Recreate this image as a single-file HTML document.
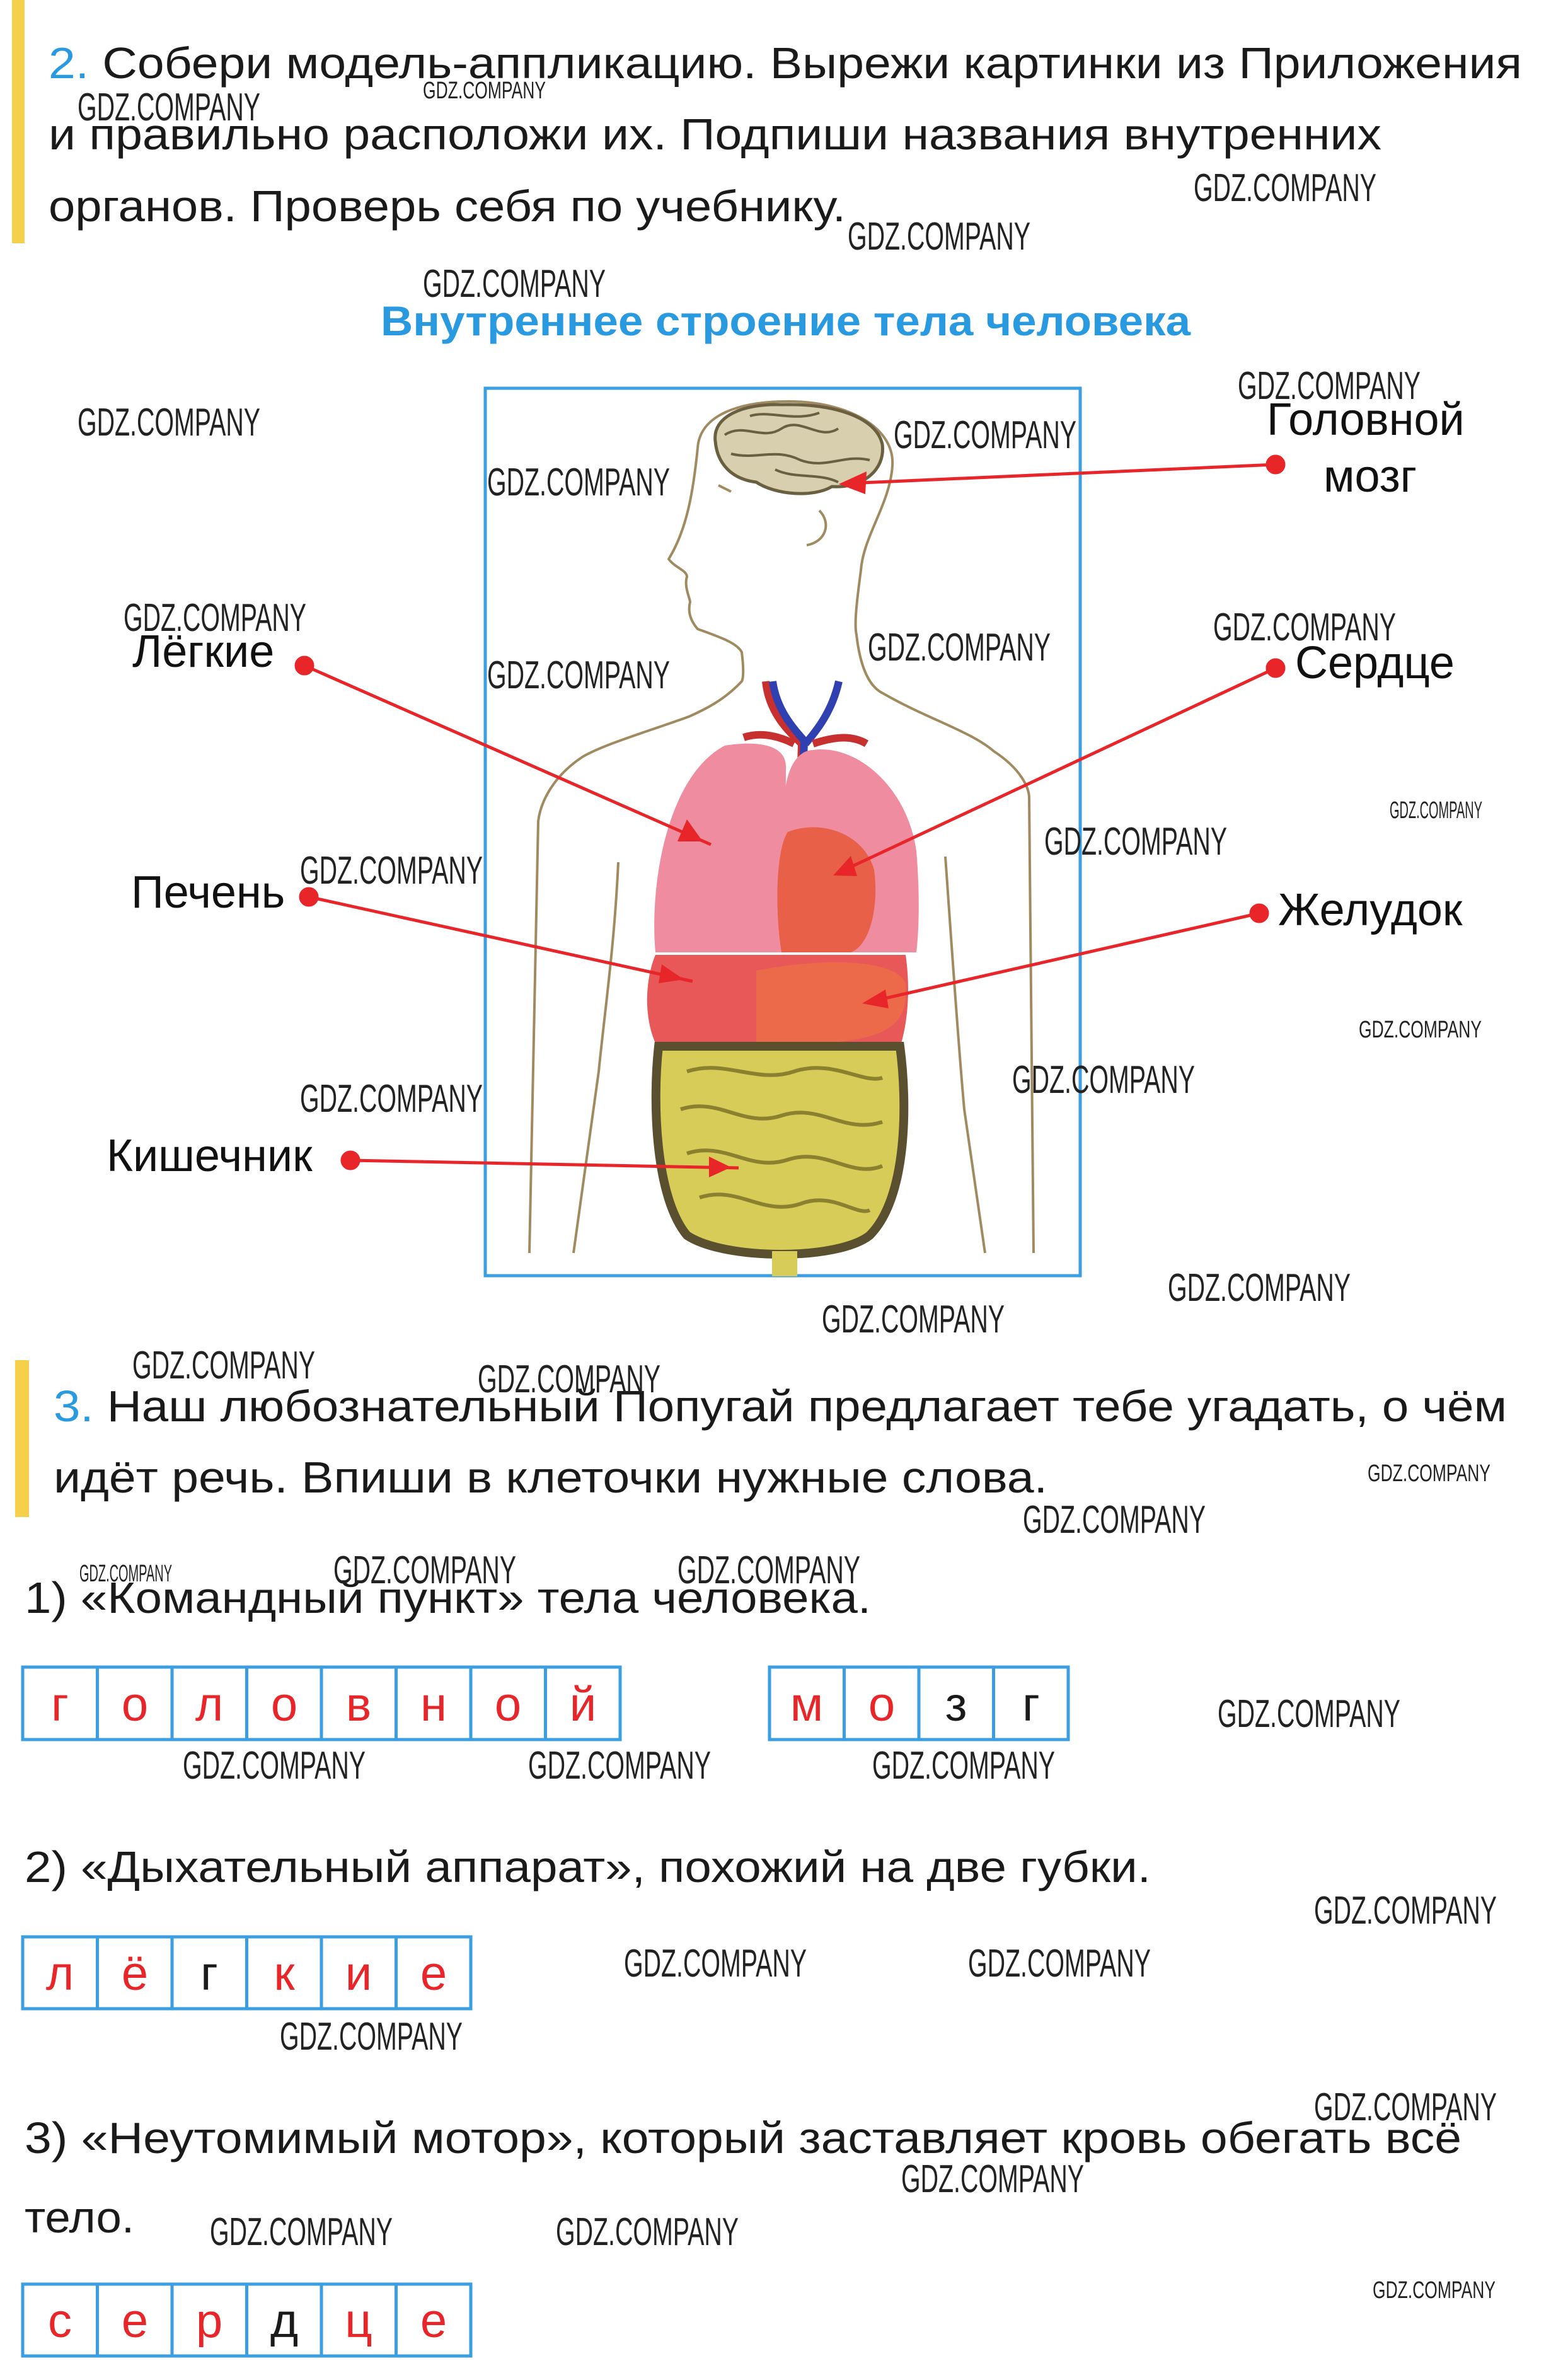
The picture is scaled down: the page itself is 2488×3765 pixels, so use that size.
<!DOCTYPE html>
<html><head><meta charset="utf-8"><style>
html,body{margin:0;padding:0;background:#fff;}
svg{display:block;}
text{font-family:"Liberation Sans","DejaVu Sans",sans-serif;}
.t{font-size:70px;fill:#1a1a1a;}
.lab{font-size:72px;fill:#111;}
.wm{font-size:62px;fill:#222;font-family:"Liberation Sans Narrow","Liberation Sans",sans-serif;}
.c{font-size:76px;text-anchor:middle;fill:#e8262a;}
.k{fill:#1a1a1a;}
</style></head><body>
<svg width="2488" height="3765" viewBox="0 0 2488 3765" xmlns="http://www.w3.org/2000/svg">
<rect width="2488" height="3765" fill="#fff"/>
<rect x="19" y="0" width="20" height="386" fill="#f5d04a"/>

<text class="t" x="77" y="124" textLength="2338" lengthAdjust="spacingAndGlyphs"><tspan fill="#2a9ae0">2.</tspan> Собери модель-аппликацию. Вырежи картинки из Приложения</text>
<text class="t" x="77" y="237" textLength="2115" lengthAdjust="spacingAndGlyphs">и правильно расположи их. Подпиши названия внутренних</text>
<text class="t" x="77" y="351" textLength="1265" lengthAdjust="spacingAndGlyphs">органов. Проверь себя по учебнику.</text>

<text x="604" y="532" font-size="66" font-weight="bold" fill="#2a9ae0" textLength="1285" lengthAdjust="spacingAndGlyphs">Внутреннее строение тела человека</text>

<rect x="770" y="616" width="944" height="1408" fill="none" stroke="#3a9ee0" stroke-width="5"/>

<g fill="none" stroke="#a08a60" stroke-width="4">
<path d="M1107,711 C1110,660 1170,635 1261,637 C1350,640 1420,680 1416,739 C1412,800 1370,850 1366,905 C1360,950 1355,990 1359,1007 C1365,1060 1380,1090 1401,1100 C1470,1140 1540,1160 1577,1192 C1620,1220 1633,1250 1633,1266 L1640,1988"/>
<path d="M1107,711 C1100,780 1090,840 1061,887 C1070,900 1090,905 1090,915 C1085,930 1095,950 1095,955 C1090,975 1100,990 1107,998 C1140,1010 1170,1020 1177,1035 C1180,1060 1180,1075 1177,1081 C1150,1110 1120,1125 1093,1137 C1030,1160 960,1180 924,1201 C880,1230 858,1270 854,1303 L840,1988"/>
<path d="M981,1368 C975,1500 960,1600 950,1700 L910,1988"/>
<path d="M1500,1359 C1510,1500 1520,1650 1530,1760 L1563,1988"/>
<path d="M1300,810 C1320,830 1310,860 1280,865"/>
<path d="M1140,770 L1160,780"/>
</g>
<path d="M1135,700 C1130,660 1180,640 1240,642 C1320,640 1390,660 1400,705 C1405,745 1370,775 1320,772 C1290,790 1230,785 1200,765 C1160,760 1138,735 1135,700 Z" fill="#d8cfae" stroke="#6a5f40" stroke-width="5"/>
<g fill="none" stroke="#6a5f40" stroke-width="4">
<path d="M1150,690 C1180,670 1210,700 1240,680 C1270,660 1300,700 1330,680"/>
<path d="M1160,720 C1200,730 1230,710 1270,730 C1310,745 1340,720 1380,730"/>
<path d="M1190,660 C1220,650 1260,670 1300,655"/>
<path d="M1230,745 C1260,760 1300,750 1330,765"/>
</g>
<g fill="none" stroke-width="12">
<path d="M1215,1081 C1220,1130 1250,1160 1272,1180 L1268,1322" stroke="#c83030"/>
<path d="M1226,1081 C1232,1125 1258,1155 1276,1175 L1272,1300" stroke="#3040b0"/>
<path d="M1331,1081 C1320,1130 1295,1160 1278,1180" stroke="#3040b0"/>
<path d="M1180,1170 C1210,1160 1240,1170 1260,1180" stroke="#c83030"/>
<path d="M1290,1180 C1320,1170 1350,1165 1375,1180" stroke="#c83030"/>
</g>
<path d="M1150,1183 C1200,1175 1250,1180 1247,1220 L1245,1511 L1040,1511 C1030,1400 1060,1230 1150,1183 Z" fill="#f08ca0"/>
<path d="M1290,1190 C1360,1180 1440,1250 1454,1350 C1460,1420 1458,1480 1454,1511 L1240,1511 L1245,1260 C1250,1210 1270,1190 1290,1190 Z" fill="#f08ca0"/>
<path d="M1250,1320 C1300,1300 1370,1320 1387,1380 C1395,1440 1380,1500 1350,1511 L1240,1511 C1230,1450 1230,1350 1250,1320 Z" fill="#e86048"/>
<path d="M1040,1515 L1437,1515 C1445,1570 1440,1620 1430,1655 L1040,1655 C1020,1610 1025,1550 1040,1515 Z" fill="#e85858"/>
<path d="M1200,1540 C1300,1520 1420,1520 1437,1560 C1440,1610 1430,1650 1300,1655 L1200,1655 Z" fill="#ec6a4a"/>
<path d="M1045,1660 L1428,1660 C1440,1750 1440,1900 1380,1960 C1330,2000 1150,2000 1090,1960 C1040,1900 1035,1750 1045,1660 Z" fill="#d8cc58" stroke="#5a5030" stroke-width="14"/>
<g fill="none" stroke="#8a8030" stroke-width="6">
<path d="M1090,1700 C1150,1680 1200,1720 1260,1700 C1320,1680 1370,1720 1400,1710"/>
<path d="M1080,1760 C1140,1740 1180,1790 1240,1770 C1300,1750 1340,1800 1400,1780"/>
<path d="M1090,1830 C1150,1810 1190,1860 1250,1840 C1310,1820 1350,1870 1400,1850"/>
<path d="M1110,1900 C1170,1880 1210,1930 1270,1910 C1320,1890 1360,1930 1380,1920"/>
</g>
<rect x="1225" y="1985" width="40" height="40" fill="#d8cc58"/>

<g stroke="#e8262a" stroke-width="5" fill="#e8262a">
<line x1="2024" y1="737" x2="1345" y2="767"/>
<line x1="483" y1="1056" x2="1128" y2="1340"/>
<line x1="2024" y1="1060" x2="1336" y2="1382"/>
<line x1="490" y1="1423" x2="1099" y2="1557"/>
<line x1="1998" y1="1449" x2="1382" y2="1589"/>
<line x1="556" y1="1841" x2="1172" y2="1853"/>
<circle cx="2024" cy="737" r="13"/><circle cx="483" cy="1056" r="13"/><circle cx="2024" cy="1060" r="13"/>
<circle cx="490" cy="1423" r="13"/><circle cx="1998" cy="1449" r="13"/><circle cx="556" cy="1841" r="13"/>
</g>
<g fill="#e8262a">
<polygon points="1331,768 1375,748 1373,784"/>
<polygon points="1115,1335 1090,1300 1075,1335"/>
<polygon points="1322,1389 1350,1358 1360,1390"/>
<polygon points="1085,1554 1050,1530 1045,1560"/>
<polygon points="1368,1592 1405,1570 1410,1600"/>
<polygon points="1160,1852 1125,1835 1125,1868"/>
</g>

<text class="lab" x="2010" y="690">Головной</text>
<text class="lab" x="2100" y="780">мозг</text>
<text class="lab" x="210" y="1058">Лёгкие</text>
<text class="lab" x="2055" y="1076">Сердце</text>
<text class="lab" x="208" y="1440">Печень</text>
<text class="lab" x="2028" y="1468">Желудок</text>
<text class="lab" x="169" y="1858">Кишечник</text>

<g transform="translate(0,-16)">
<rect x="24" y="2174" width="22" height="249" fill="#f5d04a"/>
<text class="t" x="85" y="2271" textLength="2306" lengthAdjust="spacingAndGlyphs"><tspan fill="#2a9ae0">3.</tspan> Наш любознательный Попугай предлагает тебе угадать, о чём</text>
<text class="t" x="85" y="2384" textLength="1577" lengthAdjust="spacingAndGlyphs">идёт речь. Впиши в клеточки нужные слова.</text>
<text class="t" x="39" y="2575" textLength="1343" lengthAdjust="spacingAndGlyphs">1) «Командный пункт» тела человека.</text>
<text class="t" x="39" y="3002" textLength="1787" lengthAdjust="spacingAndGlyphs">2) «Дыхательный аппарат», похожий на две губки.</text>
<text class="t" x="39" y="3432" textLength="2280" lengthAdjust="spacingAndGlyphs">3) «Неутомимый мотор», который заставляет кровь обегать всё</text>
<text class="t" x="39" y="3558" textLength="174" lengthAdjust="spacingAndGlyphs">тело.</text>

<g fill="none" stroke="#3a9ee0" stroke-width="5">
<rect x="36" y="2661" width="948" height="115"/>
<path d="M154.5,2661V2776M273,2661V2776M391.5,2661V2776M510,2661V2776M628.5,2661V2776M747,2661V2776M865.5,2661V2776"/>
<rect x="1221" y="2661" width="474" height="115"/>
<path d="M1339.5,2661V2776M1458,2661V2776M1576.5,2661V2776"/>
<rect x="36" y="3089" width="711" height="114"/>
<path d="M154.5,3089V3203M273,3089V3203M391.5,3089V3203M510,3089V3203M628.5,3089V3203"/>
<rect x="36" y="3640" width="711" height="114"/>
<path d="M154.5,3640V3754M273,3640V3754M391.5,3640V3754M510,3640V3754M628.5,3640V3754"/>
</g>
<text class="c" x="95" y="2746">г</text><text class="c" x="214" y="2746">о</text><text class="c" x="332" y="2746">л</text><text class="c" x="451" y="2746">о</text>
<text class="c" x="569" y="2746">в</text><text class="c" x="688" y="2746">н</text><text class="c" x="806" y="2746">о</text><text class="c" x="925" y="2746">й</text>
<text class="c" x="1280" y="2746">м</text><text class="c" x="1399" y="2746">о</text><text class="c k" x="1517" y="2746">з</text><text class="c k" x="1636" y="2746">г</text>
<text class="c" x="95" y="3173">л</text><text class="c" x="214" y="3173">ё</text><text class="c k" x="332" y="3173">г</text><text class="c" x="451" y="3173">к</text><text class="c" x="569" y="3173">и</text><text class="c" x="688" y="3173">е</text>
<text class="c" x="95" y="3724">с</text><text class="c" x="214" y="3724">е</text><text class="c" x="332" y="3724">р</text><text class="c k" x="451" y="3724">д</text><text class="c" x="569" y="3724">ц</text><text class="c" x="688" y="3724">е</text>
</g>

<g class="wm">
<text x="123" y="191" textLength="290" lengthAdjust="spacingAndGlyphs">GDZ.COMPANY</text>
<text x="1894" y="319" textLength="290" lengthAdjust="spacingAndGlyphs">GDZ.COMPANY</text>
<text x="1345" y="396" textLength="290" lengthAdjust="spacingAndGlyphs">GDZ.COMPANY</text>
<text x="671" y="471" textLength="290" lengthAdjust="spacingAndGlyphs">GDZ.COMPANY</text>
<text x="1964" y="633" textLength="290" lengthAdjust="spacingAndGlyphs">GDZ.COMPANY</text>
<text x="123" y="691" textLength="290" lengthAdjust="spacingAndGlyphs">GDZ.COMPANY</text>
<text x="1418" y="711" textLength="290" lengthAdjust="spacingAndGlyphs">GDZ.COMPANY</text>
<text x="773" y="786" textLength="290" lengthAdjust="spacingAndGlyphs">GDZ.COMPANY</text>
<text x="196" y="1001" textLength="290" lengthAdjust="spacingAndGlyphs">GDZ.COMPANY</text>
<text x="1925" y="1016" textLength="290" lengthAdjust="spacingAndGlyphs">GDZ.COMPANY</text>
<text x="1377" y="1048" textLength="290" lengthAdjust="spacingAndGlyphs">GDZ.COMPANY</text>
<text x="773" y="1092" textLength="290" lengthAdjust="spacingAndGlyphs">GDZ.COMPANY</text>
<text x="476" y="1402" textLength="290" lengthAdjust="spacingAndGlyphs">GDZ.COMPANY</text>
<text x="1657" y="1356" textLength="290" lengthAdjust="spacingAndGlyphs">GDZ.COMPANY</text>
<text x="1606" y="1734" textLength="290" lengthAdjust="spacingAndGlyphs">GDZ.COMPANY</text>
<text x="476" y="1764" textLength="290" lengthAdjust="spacingAndGlyphs">GDZ.COMPANY</text>
<text x="1853" y="2064" textLength="290" lengthAdjust="spacingAndGlyphs">GDZ.COMPANY</text>
<text x="1304" y="2114" textLength="290" lengthAdjust="spacingAndGlyphs">GDZ.COMPANY</text>
<text x="210" y="2187" textLength="290" lengthAdjust="spacingAndGlyphs">GDZ.COMPANY</text>
<text x="758" y="2209" textLength="290" lengthAdjust="spacingAndGlyphs">GDZ.COMPANY</text>
<text x="1623" y="2432" textLength="290" lengthAdjust="spacingAndGlyphs">GDZ.COMPANY</text>
<text x="529" y="2512" textLength="290" lengthAdjust="spacingAndGlyphs">GDZ.COMPANY</text>
<text x="1075" y="2512" textLength="290" lengthAdjust="spacingAndGlyphs">GDZ.COMPANY</text>
<text x="1932" y="2740" textLength="290" lengthAdjust="spacingAndGlyphs">GDZ.COMPANY</text>
<text x="290" y="2822" textLength="290" lengthAdjust="spacingAndGlyphs">GDZ.COMPANY</text>
<text x="838" y="2822" textLength="290" lengthAdjust="spacingAndGlyphs">GDZ.COMPANY</text>
<text x="1384" y="2822" textLength="290" lengthAdjust="spacingAndGlyphs">GDZ.COMPANY</text>
<text x="2085" y="3052" textLength="290" lengthAdjust="spacingAndGlyphs">GDZ.COMPANY</text>
<text x="990" y="3136" textLength="290" lengthAdjust="spacingAndGlyphs">GDZ.COMPANY</text>
<text x="1536" y="3136" textLength="290" lengthAdjust="spacingAndGlyphs">GDZ.COMPANY</text>
<text x="444" y="3252" textLength="290" lengthAdjust="spacingAndGlyphs">GDZ.COMPANY</text>
<text x="2085" y="3364" textLength="290" lengthAdjust="spacingAndGlyphs">GDZ.COMPANY</text>
<text x="1430" y="3478" textLength="290" lengthAdjust="spacingAndGlyphs">GDZ.COMPANY</text>
<text x="333" y="3562" textLength="290" lengthAdjust="spacingAndGlyphs">GDZ.COMPANY</text>
<text x="882" y="3562" textLength="290" lengthAdjust="spacingAndGlyphs">GDZ.COMPANY</text>
</g>
<g class="wm" style="font-size:38px">
<text x="2156" y="1646" textLength="195" lengthAdjust="spacingAndGlyphs">GDZ.COMPANY</text>
<text x="2170" y="2350" textLength="195" lengthAdjust="spacingAndGlyphs">GDZ.COMPANY</text>
<text x="2178" y="3646" textLength="195" lengthAdjust="spacingAndGlyphs">GDZ.COMPANY</text>
<text x="2205" y="1298" textLength="147" lengthAdjust="spacingAndGlyphs">GDZ.COMPANY</text>
<text x="126" y="2509" textLength="147" lengthAdjust="spacingAndGlyphs">GDZ.COMPANY</text>
<text x="671" y="156" textLength="195" lengthAdjust="spacingAndGlyphs">GDZ.COMPANY</text>
</g>
</svg>
</body></html>
